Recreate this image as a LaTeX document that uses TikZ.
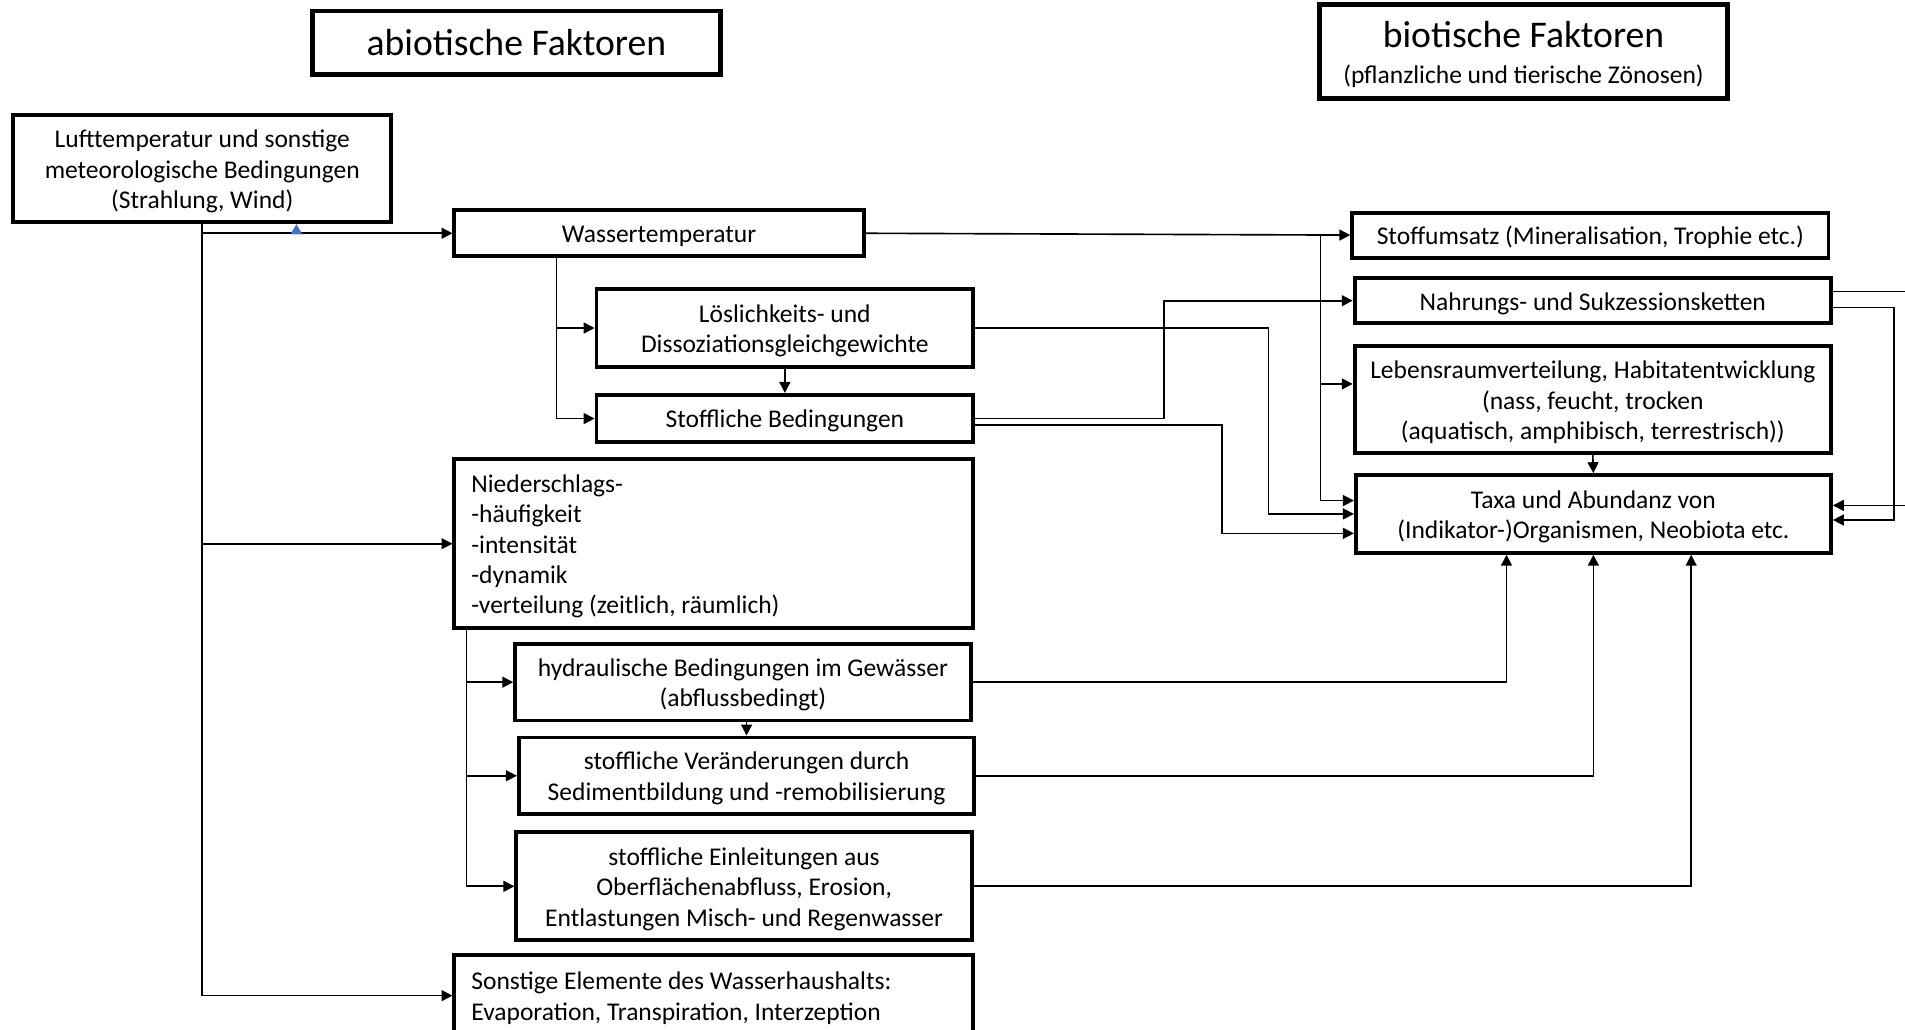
\documentclass[tikz,border=0pt]{standalone}
\usepackage{fontspec}
\setmainfont{Carlito}
\usetikzlibrary{arrows.meta}
\frenchspacing
\newcommand\bodyfont{\fontsize{21}{25}\selectfont\frenchspacing}
\newcommand\titlefont{\fontsize{31}{30}\selectfont\frenchspacing}
\newcommand\ds{\rule{0pt}{19pt}}
\definecolor{tipblue}{HTML}{4472C4}
\tikzset{
  box/.style={draw, line width=3.2pt, inner sep=0pt, align=center, font=\bodyfont},
  leftbox/.style={box, text width=399, align=flush left},
  titlebox/.style={draw, line width=4pt, inner sep=0pt, align=center},
  arr/.style={line width=1.35pt, -{Triangle[length=9pt,width=9pt]}},
}
\begin{document}
\begin{tikzpicture}[x=1pt,y=-1pt]
\useasboundingbox (0,0) rectangle (1568,847);
\clip (0,0) rectangle (1568,847);
\fill[white] (0,0) rectangle (1568,847);

% titles
\node[titlebox, minimum width=336, minimum height=52, font=\titlefont] (abio) at (425,35) {\rule{0pt}{21pt}abiotische Faktoren};
\node[titlebox, minimum width=336, minimum height=77, font=\titlefont] (bio) at (1254,42.5)
  {\rule{0pt}{26pt}biotische Faktoren\\{\bodyfont (pflanzliche und tierische Zönosen)}};

% left column
\node[box, minimum width=311, minimum height=88] (luft) at (166.5,139)
  {\ds Lufttemperatur und sonstige\\meteorologische Bedingungen\\(Strahlung, Wind)};
\node[box, minimum width=337, minimum height=38] (wasser) at (542.5,192) {\ds Wassertemperatur};
\node[box, minimum width=310, minimum height=64] (loesl) at (646,270)
  {\ds Löslichkeits- und\\Dissoziationsgleichgewichte};
\node[box, minimum width=310, minimum height=39] (stoffl) at (646,344.5) {\ds Stoffliche Bedingungen};
\node[leftbox, minimum width=427, minimum height=139] (nieder) at (587.5,447.5)
  {\ds Niederschlags-\\-häufigkeit\\-intensität\\-dynamik\\-verteilung (zeitlich, räumlich)};
\node[box, minimum width=375, minimum height=63] (hydr) at (611.5,561.5)
  {\ds hydraulische Bedingungen im Gewässer\\(abflussbedingt)};
\node[box, minimum width=375, minimum height=63] (veraend) at (614.5,638.5)
  {\ds stoffliche Veränderungen durch\\Sedimentbildung und -remobilisierung};
\node[box, minimum width=375, minimum height=89] (einl) at (612.5,729.5)
  {\ds stoffliche Einleitungen aus\\Oberflächenabfluss, Erosion,\\Entlastungen Misch- und Regenwasser};
\node[leftbox, minimum width=427, minimum height=67] (sonst) at (587.5,819.5)
  {\ds Sonstige Elemente des Wasserhaushalts:\\Evaporation, Transpiration, Interzeption};

% right column
\node[box, minimum width=392, minimum height=37] (stoffums) at (1309,193.5)
  {\ds Stoffumsatz (Mineralisation, Trophie etc.)};
\node[box, minimum width=392, minimum height=37] (nahr) at (1311,247.5)
  {\ds Nahrungs- und Sukzessionsketten};
\node[box, minimum width=392, minimum height=88] (lebens) at (1311,329)
  {\ds Lebensraumverteilung, Habitatentwicklung\\(nass, feucht, trocken\\(aquatisch, amphibisch, terrestrisch))};
\node[box, minimum width=391, minimum height=64] (taxa) at (1311.5,423)
  {\ds Taxa und Abundanz von\\(Indikator-)Organismen, Neobiota etc.};

% helper coordinates
\coordinate (wx) at (458,0);
\coordinate (bx) at (1087,0);
\coordinate (lx) at (1044,0);
\coordinate (sx) at (958,0);
\coordinate (s2x) at (1006,0);
\coordinate (rx) at (1559,0);
\coordinate (ox) at (1620,0);
\coordinate (nx) at (384,0);
\coordinate (t1) at ([yshift=11pt]taxa.west);
\coordinate (t3) at ([yshift=-16pt]taxa.west);
\coordinate (l1) at ([yshift=13pt]lebens.west);
\coordinate (s2) at ([yshift=-5.5pt]stoffl.east);
\coordinate (n1) at ([yshift=7.5pt]nahr.east);
\coordinate (n2) at ([yshift=-5.5pt]nahr.east);
\coordinate (tr1) at ([yshift=7pt]taxa.east);
\coordinate (tr2) at ([yshift=-5pt]taxa.east);
\coordinate (tb1) at ([xshift=-71.5pt]taxa.south);
\coordinate (tb3) at ([xshift=80.5pt]taxa.south);

% from Lufttemperatur
\draw[arr] (luft.south) -- (luft.south |- sonst.west) -- (sonst.west);
\draw[arr] (luft.south |- wasser.west) -- (wasser.west);
\draw[arr] (luft.south |- nieder.west) -- (nieder.west);
\fill[tipblue] (239,193) -- (249,193) -- (244,184.5) -- cycle;

% from Wassertemperatur
\draw[arr] (wx |- wasser.south) -- (wx |- stoffl.west) -- (stoffl.west);
\draw[arr] (wx |- loesl.west) -- (loesl.west);
\draw[arr] (loesl.south) -- (stoffl.north);
\draw[arr] (wasser.east) -- (stoffums.west);
\draw[arr] (bx |- stoffums.west) -- (bx |- t1) -- (t1);
\draw[arr] (bx |- l1) -- (l1);

% from Löslichkeit / Stoffliche Bedingungen
\draw[arr] (loesl.east) -- (lx |- loesl.east) -- (lx |- taxa.west) -- (taxa.west);
\draw[arr] (stoffl.east) -- (sx |- stoffl.east) -- (sx |- nahr.west) -- (nahr.west);
\draw[arr] (s2) -- (s2x |- s2) -- (s2x |- t3) -- (t3);

% right column
\draw[arr] (lebens.south) -- (taxa.north);
\draw[arr] (n1) -- (ox |- n1) -- (ox |- tr1) -- (tr1);
\draw[arr] (n2) -- (rx |- n2) -- (rx |- tr2) -- (tr2);

% from Niederschlag
\draw[arr] (nx |- nieder.south) -- (nx |- einl.west) -- (einl.west);
\draw[arr] (nx |- hydr.west) -- (hydr.west);
\draw[arr] (nx |- veraend.west) -- (veraend.west);
\draw[arr] (veraend.north |- hydr.south) -- (veraend.north);
\draw[arr] (hydr.east) -| (tb1);
\draw[arr] (veraend.east) -| (taxa.south);
\draw[arr] (einl.east) -| (tb3);
\end{tikzpicture}
\end{document}
